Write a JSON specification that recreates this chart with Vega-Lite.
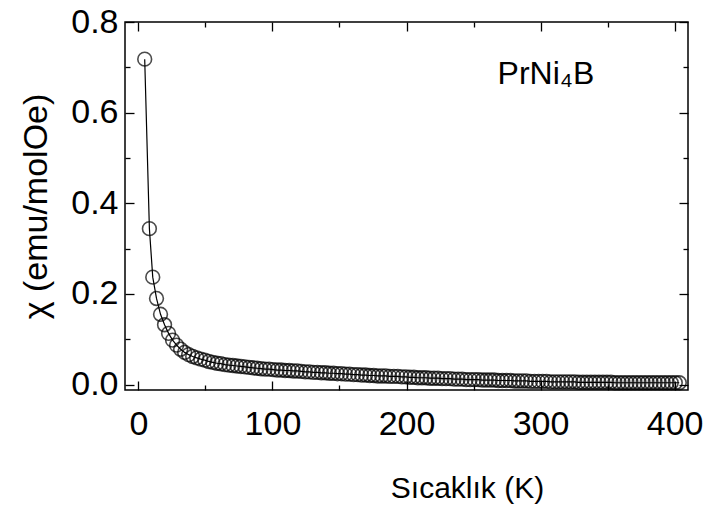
{
  "$schema": "https://vega.github.io/schema/vega-lite/v6.json",
  "autosize": {"type": "none"},
  "width": 563,
  "height": 368,
  "padding": {"left": 125, "top": 22, "right": 20, "bottom": 122},
  "background": "white",
  "config": {
    "view": {"stroke": "black", "strokeWidth": 1.5},
    "font": "Liberation Sans",
    "axis": {"grid": false, "domain": false, "tickColor": "black", "tickWidth": 1.3, "labelColor": "black", "titleColor": "black", "labelFont": "Liberation Sans", "titleFont": "Liberation Sans"}
  },
  "datasets": {
    "chi": [
      {"T": 4.7, "chi": 0.718}, {"T": 8.2, "chi": 0.344}, {"T": 10.7, "chi": 0.237}, {"T": 13.5, "chi": 0.19},
      {"T": 16.5, "chi": 0.155}, {"T": 19.5, "chi": 0.132}, {"T": 22.5, "chi": 0.113}, {"T": 25.5, "chi": 0.098},
      {"T": 28.5, "chi": 0.087}, {"T": 31.5, "chi": 0.078}, {"T": 34.5, "chi": 0.071}, {"T": 37.5, "chi": 0.066},
      {"T": 40.5, "chi": 0.062}, {"T": 43.5, "chi": 0.059}, {"T": 46.5, "chi": 0.056}, {"T": 49.5, "chi": 0.054},
      {"T": 52.5, "chi": 0.051}, {"T": 55.5, "chi": 0.049}, {"T": 58.5, "chi": 0.047}, {"T": 61.5, "chi": 0.046},
      {"T": 64.5, "chi": 0.044}, {"T": 67.5, "chi": 0.043}, {"T": 70.5, "chi": 0.042}, {"T": 73.5, "chi": 0.041},
      {"T": 76.5, "chi": 0.04}, {"T": 79.5, "chi": 0.039}, {"T": 82.5, "chi": 0.038}, {"T": 85.5, "chi": 0.037},
      {"T": 88.5, "chi": 0.036}, {"T": 91.5, "chi": 0.035}, {"T": 94.5, "chi": 0.034}, {"T": 97.5, "chi": 0.034},
      {"T": 100.5, "chi": 0.033}, {"T": 103.5, "chi": 0.032}, {"T": 106.5, "chi": 0.032}, {"T": 109.5, "chi": 0.031},
      {"T": 112.5, "chi": 0.031}, {"T": 115.5, "chi": 0.03}, {"T": 118.5, "chi": 0.03}, {"T": 121.5, "chi": 0.029},
      {"T": 124.5, "chi": 0.028}, {"T": 127.5, "chi": 0.028}, {"T": 130.5, "chi": 0.027}, {"T": 133.5, "chi": 0.027},
      {"T": 136.5, "chi": 0.026}, {"T": 139.5, "chi": 0.026}, {"T": 142.5, "chi": 0.025}, {"T": 145.5, "chi": 0.025},
      {"T": 148.5, "chi": 0.024}, {"T": 151.5, "chi": 0.024}, {"T": 154.5, "chi": 0.023}, {"T": 157.5, "chi": 0.023},
      {"T": 160.5, "chi": 0.022}, {"T": 163.5, "chi": 0.022}, {"T": 166.5, "chi": 0.021}, {"T": 169.5, "chi": 0.021},
      {"T": 172.5, "chi": 0.02}, {"T": 175.5, "chi": 0.02}, {"T": 178.5, "chi": 0.019}, {"T": 181.5, "chi": 0.019},
      {"T": 184.5, "chi": 0.019}, {"T": 187.5, "chi": 0.018}, {"T": 190.5, "chi": 0.018}, {"T": 193.5, "chi": 0.018},
      {"T": 196.5, "chi": 0.017}, {"T": 199.5, "chi": 0.017}, {"T": 202.5, "chi": 0.016}, {"T": 205.5, "chi": 0.016},
      {"T": 208.5, "chi": 0.015}, {"T": 211.5, "chi": 0.015}, {"T": 214.5, "chi": 0.015}, {"T": 217.5, "chi": 0.014},
      {"T": 220.5, "chi": 0.014}, {"T": 223.5, "chi": 0.014}, {"T": 226.5, "chi": 0.013}, {"T": 229.5, "chi": 0.013},
      {"T": 232.5, "chi": 0.013}, {"T": 235.5, "chi": 0.012}, {"T": 238.5, "chi": 0.012}, {"T": 241.5, "chi": 0.012},
      {"T": 244.5, "chi": 0.011}, {"T": 247.5, "chi": 0.011}, {"T": 250.5, "chi": 0.011}, {"T": 253.5, "chi": 0.011},
      {"T": 256.5, "chi": 0.01}, {"T": 259.5, "chi": 0.01}, {"T": 262.5, "chi": 0.01}, {"T": 265.5, "chi": 0.01},
      {"T": 268.5, "chi": 0.009}, {"T": 271.5, "chi": 0.009}, {"T": 274.5, "chi": 0.009}, {"T": 277.5, "chi": 0.009},
      {"T": 280.5, "chi": 0.008}, {"T": 283.5, "chi": 0.008}, {"T": 286.5, "chi": 0.008}, {"T": 289.5, "chi": 0.008},
      {"T": 292.5, "chi": 0.007}, {"T": 295.5, "chi": 0.007}, {"T": 298.5, "chi": 0.007}, {"T": 301.5, "chi": 0.007},
      {"T": 304.5, "chi": 0.007}, {"T": 307.5, "chi": 0.006}, {"T": 310.5, "chi": 0.006}, {"T": 313.5, "chi": 0.006},
      {"T": 316.5, "chi": 0.006}, {"T": 319.5, "chi": 0.006}, {"T": 322.5, "chi": 0.006}, {"T": 325.5, "chi": 0.006},
      {"T": 328.5, "chi": 0.005}, {"T": 331.5, "chi": 0.005}, {"T": 334.5, "chi": 0.005}, {"T": 337.5, "chi": 0.005},
      {"T": 340.5, "chi": 0.005}, {"T": 343.5, "chi": 0.005}, {"T": 346.5, "chi": 0.005}, {"T": 349.5, "chi": 0.005},
      {"T": 352.5, "chi": 0.005}, {"T": 355.5, "chi": 0.004}, {"T": 358.5, "chi": 0.004}, {"T": 361.5, "chi": 0.004},
      {"T": 364.5, "chi": 0.004}, {"T": 367.5, "chi": 0.004}, {"T": 370.5, "chi": 0.004}, {"T": 373.5, "chi": 0.004},
      {"T": 376.5, "chi": 0.004}, {"T": 379.5, "chi": 0.004}, {"T": 382.5, "chi": 0.004}, {"T": 385.5, "chi": 0.004},
      {"T": 388.5, "chi": 0.004}, {"T": 391.5, "chi": 0.004}, {"T": 394.5, "chi": 0.004}, {"T": 397.5, "chi": 0.004},
      {"T": 400.5, "chi": 0.004}, {"T": 403.5, "chi": 0.004}
    ],
    "label": [{"text": "PrNi₄B", "T": 304, "chi": 0.685}]
  },
  "layer": [
    {
      "data": {"name": "chi"},
      "mark": {"type": "line", "color": "black", "strokeWidth": 1.2},
      "encoding": {
        "x": {"field": "T", "type": "quantitative", "scale": {"domain": [-10, 410], "nice": false, "zero": false},
          "axis": {"orient": "bottom", "values": [0, 100, 200, 300, 400], "tickSize": -9, "labelFontSize": 34, "labelPadding": 26,
            "title": "Sıcaklık (K)", "titleFontSize": 30, "titleFontWeight": "normal", "titleX": 342, "titleY": 98, "titleBaseline": "middle", "titleAlign": "center"}},
        "y": {"field": "chi", "type": "quantitative", "scale": {"domain": [-0.012, 0.8], "nice": false, "zero": false},
          "axis": {"orient": "left", "values": [0, 0.2, 0.4, 0.6, 0.8], "format": ".1f", "tickSize": -9, "labelFontSize": 34, "labelPadding": 16,
            "title": "χ (emu/molOe)", "titleFontSize": 34, "titleFontWeight": "normal", "titlePadding": 17}}
      }
    },
    {
      "data": {"name": "chi"},
      "mark": {"type": "point", "shape": "circle", "filled": false, "stroke": "black", "strokeWidth": 1.6, "size": 190},
      "encoding": {
        "x": {"field": "T", "type": "quantitative", "axis": {"orient": "top", "values": [0, 100, 200, 300, 400], "tickSize": -9, "labels": false, "title": null}},
        "y": {"field": "chi", "type": "quantitative", "axis": {"orient": "right", "values": [0, 0.2, 0.4, 0.6, 0.8], "tickSize": -9, "labels": false, "title": null}}
      }
    },
    {
      "data": {"name": "chi"},
      "mark": {"type": "line", "opacity": 0},
      "encoding": {
        "x": {"field": "T", "type": "quantitative", "axis": {"orient": "bottom", "values": [50, 150, 250, 350], "tickSize": -5, "labels": false, "title": null}},
        "y": {"field": "chi", "type": "quantitative", "axis": {"orient": "left", "values": [0.1, 0.3, 0.5, 0.7], "tickSize": -5, "labels": false, "title": null}}
      }
    },
    {
      "data": {"name": "chi"},
      "mark": {"type": "line", "opacity": 0},
      "encoding": {
        "x": {"field": "T", "type": "quantitative", "axis": {"orient": "top", "values": [50, 150, 250, 350], "tickSize": -5, "labels": false, "title": null}},
        "y": {"field": "chi", "type": "quantitative", "axis": {"orient": "right", "values": [0.1, 0.3, 0.5, 0.7], "tickSize": -5, "labels": false, "title": null}}
      }
    },
    {
      "data": {"name": "label"},
      "mark": {"type": "text", "fontSize": 32, "font": "Liberation Sans", "color": "black", "align": "center", "baseline": "middle"},
      "encoding": {
        "x": {"field": "T", "type": "quantitative", "axis": null},
        "y": {"field": "chi", "type": "quantitative", "axis": null},
        "text": {"field": "text"}
      }
    }
  ],
  "resolve": {"axis": {"x": "independent", "y": "independent"}}
}
